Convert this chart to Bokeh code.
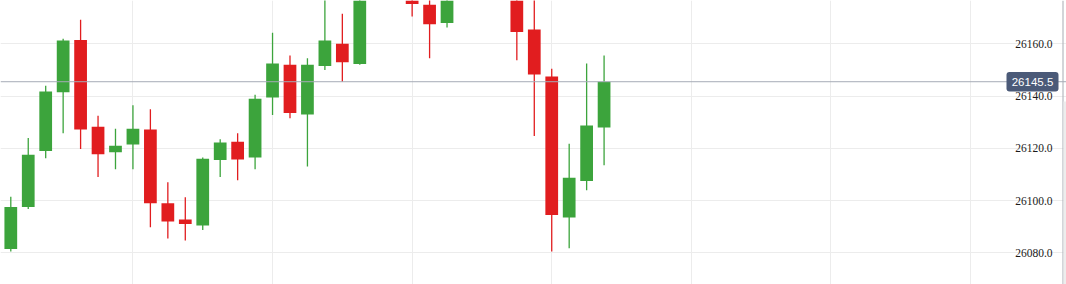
from bokeh.plotting import figure
from bokeh.models import (Range1d, Grid, FixedTicker, Span, BoxAnnotation,
                          LabelSet, Label, ColumnDataSource)
from bokeh.embed import file_html
from bokeh.resources import INLINE

# OHLC bars, oldest first
opens = [26081.5, 26097.5, 26119.0, 26141.5, 26161.5, 26128.25, 26118.5, 26121.5,
         26127.25, 26099.0, 26092.75, 26090.5, 26115.5, 26122.5, 26116.5, 26139.5,
         26152.0, 26133.0, 26151.5, 26160.0, 26152.25, 26186.5, 26192.0, 26188.0,
         26175.0, 26168.0, 26187.0, 26196.0, 26191.0, 26198.5, 26165.5, 26147.5,
         26093.5, 26107.5, 26128.0]
highs = [26101.5, 26124.0, 26144.0, 26162.0, 26169.25, 26132.5, 26127.5, 26136.5,
         26135.0, 26107.0, 26101.25, 26116.5, 26123.5, 26125.75, 26140.5, 26164.25,
         26155.5, 26154.5, 26180.0, 26171.5, 26190.0, 26196.0, 26197.5, 26190.0,
         26181.0, 26189.0, 26199.0, 26201.0, 26203.0, 26200.0, 26178.0, 26150.5,
         26121.75, 26152.5, 26155.5]
lows = [26080.5, 26096.75, 26116.25, 26125.75, 26119.75, 26109.0, 26112.0, 26112.0,
        26089.75, 26085.5, 26084.75, 26088.75, 26109.0, 26107.75, 26112.0, 26132.75,
        26131.5, 26113.0, 26150.0, 26145.5, 26152.0, 26185.5, 26186.0, 26170.5,
        26154.5, 26166.25, 26186.0, 26188.0, 26188.5, 26153.75, 26124.75, 26080.5,
        26081.75, 26104.0, 26113.5]
closes = [26097.5, 26117.5, 26141.75, 26161.25, 26127.25, 26117.75, 26121.0, 26127.5,
          26099.0, 26092.0, 26091.0, 26116.0, 26122.25, 26115.75, 26139.0, 26152.5,
          26133.5, 26152.0, 26161.25, 26153.0, 26186.0, 26192.0, 26188.0, 26175.25,
          26167.5, 26186.0, 26196.0, 26191.0, 26199.0, 26164.5, 26148.25, 26094.5,
          26108.75, 26128.75, 26145.5]

price_ticks = [26080, 26100, 26120, 26140, 26160]
price_tick_labels = ["26080.0", "26100.0", "26120.0", "26140.0", "26160.0"]
time_grid_bars = [7, 15, 23, 31, 39, 47, 55]   # one vertical line every 8 bars

UP = "#3ca43c"
DOWN = "#e11d1f"
GRID = "#ececec"

Y_LO, Y_HI = 26067.87, 26176.6

# only bars that reach into the visible price window are handed to the glyphs
idx = [i for i in range(len(opens)) if lows[i] <= Y_HI]
sel = lambda arr: [arr[i] for i in idx]
o_, h_, l_, c_ = sel(opens), sel(highs), sel(lows), sel(closes)
src = ColumnDataSource(dict(
    x=idx, o=o_, h=h_, l=l_, c=c_,
    top=[max(o, c) for o, c in zip(o_, c_)],
    bottom=[min(o, c) for o, c in zip(o_, c_)],
    color=[UP if c >= o else DOWN for o, c in zip(o_, c_)],
))

p = figure(width=1066, height=284, output_backend="svg", toolbar_location=None,
           x_range=Range1d(-0.59, 60.5), y_range=Range1d(Y_LO, Y_HI),
           x_axis_location=None, y_axis_location=None, min_border=0,
           background_fill_color="white", border_fill_color="white")
p.outline_line_color = None
p.xgrid.visible = False
p.ygrid.visible = False

p.add_layout(Grid(dimension=0, ticker=FixedTicker(ticks=time_grid_bars),
                  grid_line_color=GRID, grid_line_width=1))
p.add_layout(Grid(dimension=1, ticker=FixedTicker(ticks=price_ticks),
                  grid_line_color=GRID, grid_line_width=1))

# last-price line
last_price = closes[-1]
p.add_layout(Span(location=last_price, dimension="width",
                  line_color="#a6abb6", line_width=1))

# candles
p.segment(x0="x", y0="h", x1="x", y1="l", color="color", line_width=1.3, source=src)
p.vbar(x="x", top="top", bottom="bottom", width=0.73, fill_color="color",
       line_color=None, source=src)

# price scale labels drawn over the chart
tick_src = ColumnDataSource(dict(y=price_ticks, text=price_tick_labels))
p.add_layout(LabelSet(x=1052, y="y", x_units="screen", text="text", source=tick_src,
                      text_align="right", text_baseline="middle",
                      text_font="Liberation Sans", text_font_size="11.5px",
                      text_color="#1a1a1a"))

# current price tag
half = 9.7 / 2.6125
p.add_layout(BoxAnnotation(left=1006, right=1058, left_units="screen", right_units="screen",
                           bottom=last_price - half, top=last_price + half,
                           fill_color="#4b5a78", fill_alpha=1.0, line_color=None,
                           border_radius=3))
p.add_layout(Label(x=1032, y=last_price, x_units="screen", text=f"{last_price:.1f}",
                   text_align="center", text_baseline="middle",
                   text_font="Liberation Sans", text_font_size="11.5px",
                   text_color="white"))

# right-hand edge of the chart pane
p.add_layout(BoxAnnotation(left=1062, right=1063, left_units="screen", right_units="screen",
                           fill_color="#a8acb4", fill_alpha=1.0, line_color=None))
p.add_layout(BoxAnnotation(left=1063, right=1066, left_units="screen", right_units="screen",
                           top=183, top_units="screen",
                           fill_color="#ededed", fill_alpha=1.0, line_color=None))

open("out.html", "w").write(file_html(p, INLINE))
